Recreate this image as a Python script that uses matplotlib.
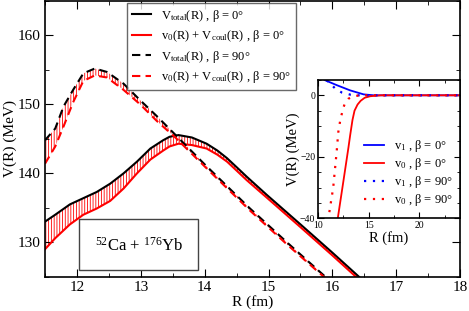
import matplotlib
matplotlib.use("Agg")
import matplotlib.pyplot as plt
from matplotlib.patches import Rectangle
from matplotlib.ticker import MultipleLocator

plt.rcParams['font.family'] = ['Liberation Serif', 'DejaVu Serif']
plt.rcParams['mathtext.fontset'] = 'custom'
plt.rcParams['mathtext.rm'] = 'Liberation Serif'
plt.rcParams['mathtext.it'] = 'Liberation Serif:italic'
plt.rcParams['hatch.color'] = 'red'
plt.rcParams['hatch.linewidth'] = 0.6

# ---- main panel data ----
r_b0 = [11.5, 11.66, 11.89, 12.1, 12.31, 12.52, 12.73, 12.94, 13.15, 13.35, 13.45, 13.59, 13.8, 14.03, 14.2, 14.35, 14.5, 14.66, 14.97, 15.5, 16.0, 16.5]
vtot_b0 = [133.0, 134.0, 135.5, 136.4, 137.3, 138.5, 140.0, 141.7, 143.6, 144.8, 145.3, 145.55, 145.2, 144.3, 143.3, 142.2, 140.9, 139.5, 136.9, 132.6, 128.5, 124.3]
vsum_b0 = [129.0, 130.6, 132.6, 134.0, 134.9, 136.0, 137.8, 140.0, 142.0, 143.3, 143.9, 144.3, 144.1, 143.6, 142.7, 141.7, 140.4, 139.0, 136.5, 132.2, 128.1, 123.9]

r_b90 = [11.5, 11.66, 11.79, 11.94, 12.1, 12.28, 12.47, 12.73, 12.99, 13.25, 13.54, 14.0, 14.71, 15.3, 15.89, 16.2]
vtot_b90 = [144.8, 146.5, 149.7, 152.1, 154.5, 155.2, 154.7, 153.0, 150.6, 148.3, 145.6, 141.3, 134.9, 129.9, 125.0, 122.4]
vsum_b90 = [141.4, 143.9, 146.8, 150.3, 153.4, 154.2, 153.9, 152.1, 150.0, 147.6, 145.2, 141.0, 134.6, 129.6, 124.8, 122.2]

# ---- inset data ----
r_v1_b0 = [10.0, 10.7, 11.85, 13.17, 14.5, 15.5, 24.0]
v1_b0 = [6.5, 4.9, 3.3, 1.6, 0.3, 0.0, 0.0]
r_v0_b0 = [11.95, 12.5, 13.0, 13.17, 13.4, 13.6, 13.9, 14.2, 14.6, 15.15, 16.2, 24.0]
v0_b0 = [-40.0, -28.0, -17.0, -13.0, -8.0, -5.0, -3.0, -1.8, -0.8, -0.3, 0.0, 0.0]
r_v1_b90 = [10.86, 11.7, 12.35, 13.2, 14.0, 24.0]
v1_b90 = [4.9, 2.2, 0.9, 0.2, 0.0, 0.0]
r_v0_b90 = [11.12, 11.5, 11.85, 12.0, 12.2, 12.5, 12.67, 13.0, 13.5, 14.2, 24.0]
v0_b90 = [-38.0, -30.0, -18.0, -12.0, -8.0, -4.0, -2.5, -1.1, -0.3, 0.0, 0.0]

fig = plt.figure(figsize=(4.69, 3.11), dpi=100)
ax = fig.add_axes([0.096, 0.110, 0.885, 0.887])

ax.fill_between(r_b0, vsum_b0, vtot_b0, facecolor='none', edgecolor='red', hatch='||||||', linewidth=0)
ax.fill_between(r_b90, vsum_b90, vtot_b90, facecolor='none', edgecolor='red', hatch='||||||', linewidth=0)

ax.plot(r_b0, vtot_b0, color='black', lw=1.5, label=r'V$_{\rm total}$(R) , β = 0°')
ax.plot(r_b0, vsum_b0, color='red', lw=1.5, label=r'v$_0$(R) + V$_{\rm coul}$(R) , β = 0°')
ax.plot(r_b90, vtot_b90, color='black', lw=1.5, ls=(0, (4, 2.5)), label=r'V$_{\rm total}$(R) , β = 90°')
ax.plot(r_b90, vsum_b90, color='red', lw=1.5, ls=(0, (4, 2.5)), label=r'v$_0$(R) + V$_{\rm coul}$(R) , β = 90°')

ax.set_xlim(11.5, 18)
ax.set_ylim(125, 165)
ax.xaxis.set_major_locator(MultipleLocator(1))
ax.xaxis.set_minor_locator(MultipleLocator(0.5))
ax.yaxis.set_major_locator(MultipleLocator(10))
ax.yaxis.set_minor_locator(MultipleLocator(5))
ax.tick_params(which='both', direction='in', top=True, right=True, labelsize=11, pad=3)
ax.tick_params(which='major', length=6)
ax.tick_params(which='minor', length=3)
for s in ax.spines.values():
    s.set_linewidth(1.2)
ax.set_xlabel('R (fm)', fontsize=11, labelpad=1)
ax.set_ylabel('V(R) (MeV)', fontsize=11, labelpad=1)

leg = ax.legend(loc='upper left', bbox_to_anchor=(0.193, 1.0), fontsize=9, frameon=True,
                fancybox=False, handlelength=1.5, borderpad=0.4, labelspacing=0.35,
                handletextpad=0.8, borderaxespad=0.15)
leg.get_frame().set_edgecolor('#444444')
leg.get_frame().set_linewidth(1.0)

ax.add_patch(Rectangle((0.082, 0.024), 0.287, 0.185, transform=ax.transAxes,
                       facecolor='white', edgecolor='#444444', lw=1.0, zorder=5))
ax.text(0.2255, 0.112, r'$^{52}$Ca + $^{176}$Yb', transform=ax.transAxes,
        ha='center', va='center', fontsize=12, zorder=6)

# ---- inset ----
ins = fig.add_axes([0.678, 0.298, 0.303, 0.445])
ins.plot(r_v1_b0, v1_b0, color='blue', lw=1.3, label=r'v$_1$ , β = 0°')
ins.plot(r_v0_b0, v0_b0, color='red', lw=1.3, label=r'v$_0$ , β = 0°')
ins.plot(r_v1_b90, v1_b90, color='blue', lw=1.6, ls=(0, (1, 3)), label=r'v$_1$ , β = 90°')
ins.plot(r_v0_b90, v0_b90, color='red', lw=1.6, ls=(0, (1, 3)), label=r'v$_0$ , β = 90°')
ins.set_xlim(10, 24)
ins.set_ylim(-40, 5)
ins.xaxis.set_major_locator(MultipleLocator(5))
ins.xaxis.set_minor_locator(MultipleLocator(2.5))
ins.yaxis.set_major_locator(MultipleLocator(20))
ins.yaxis.set_minor_locator(MultipleLocator(5))
ins.tick_params(which='both', direction='in', top=True, right=True, labelsize=7, pad=2)
ins.tick_params(which='major', length=4)
ins.tick_params(which='minor', length=2)
for s in ins.spines.values():
    s.set_linewidth(1.2)
ins.set_xlabel('R (fm)', fontsize=10.5, labelpad=1)
ins.set_ylabel('V(R) (MeV)', fontsize=10.5, labelpad=0)
ins.legend(loc='lower right', bbox_to_anchor=(1.0, 0.02), frameon=False, fontsize=9,
           handlelength=1.6, labelspacing=0.15, handletextpad=0.8, borderaxespad=0.2)

fig.savefig('out.png', dpi=100)
